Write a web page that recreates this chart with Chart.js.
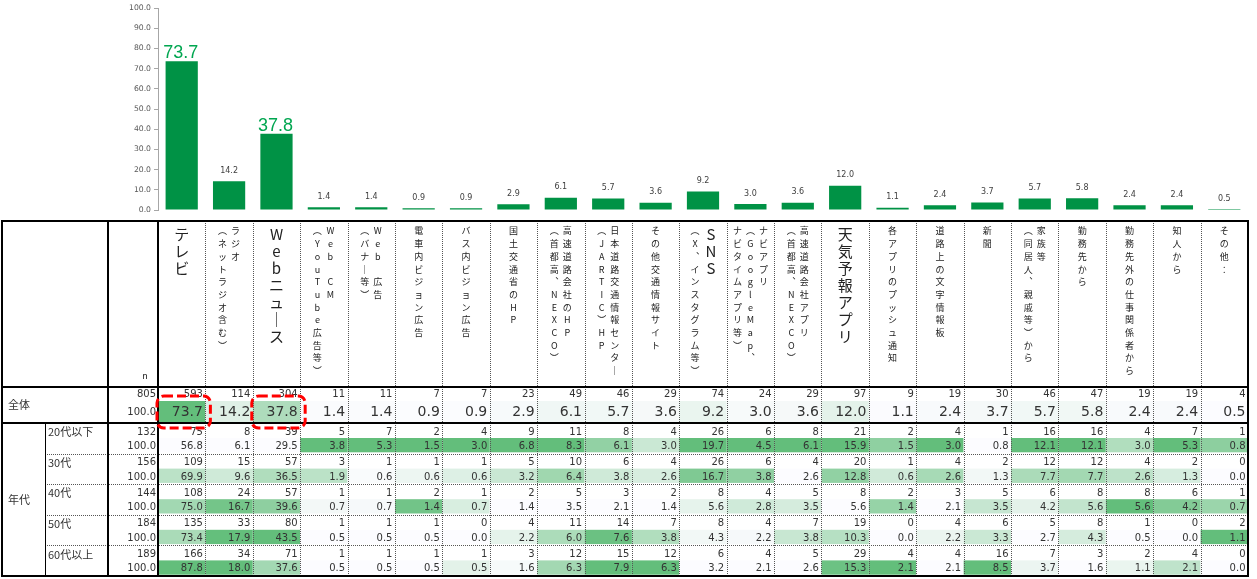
<!DOCTYPE html>
<html><head><meta charset="utf-8">
<script src="https://cdn.jsdelivr.net/npm/chart.js@4/dist/chart.umd.min.js"></script>
<style>html,body{margin:0;padding:0;background:#fff;}#wrap{position:relative;width:1257px;height:579px;}</style>
</head><body><div id="wrap"><canvas id="c"></canvas></div>
<script>
// ---- data ----
const categories = [
  ['テレビ'], ['ラジオ','（ネットラジオ含む）'], ['Webニュース'], ['Web CM','（YouTube広告等）'],
  ['Web 広告','（バナー等）'], ['電車内ビジョン広告'], ['バス内ビジョン広告'], ['国土交通省のHP'],
  ['高速道路会社のHP','（首都高、NEXCO）'], ['日本道路交通情報センター','（JARTIC）HP'], ['その他交通情報サイト'],
  ['SNS','（X、インスタグラム等）'], ['ナビアプリ','（GoogleMap、','ナビタイムアプリ等）'],
  ['高速道路会社アプリ','（首都高、NEXCO）'], ['天気予報アプリ'], ['各アプリのプッシュ通知'], ['道路上の文字情報板'],
  ['新聞'], ['家族等','（同居人、親戚等）から'], ['勤務先から'], ['勤務先外の仕事関係者から'], ['知人から'], ['その他：']
];
const bigHeader = [0, 2, 11, 14];
const highlightIdx = [0, 2];
const yTicks = [0,10,20,30,40,50,60,70,80,90,100];
const totalLabel = '全体';
const ageLabel = '年代';
const ageGroups = ['20代以下','30代','40代','50代','60代以上'];
const totalN = 805;
const ageN = [132,156,144,184,189];
const totalCounts = [593,114,304,11,11,7,7,23,49,46,29,74,24,29,97,9,19,30,46,47,19,19,4];
const totalPct = [73.7,14.2,37.8,1.4,1.4,0.9,0.9,2.9,6.1,5.7,3.6,9.2,3.0,3.6,12.0,1.1,2.4,3.7,5.7,5.8,2.4,2.4,0.5];
const age20Counts = [75,8,39,5,7,2,4,9,11,8,4,26,6,8,21,2,4,1,16,16,4,7,1];
const age20Pct = [56.8,6.1,29.5,3.8,5.3,1.5,3.0,6.8,8.3,6.1,3.0,19.7,4.5,6.1,15.9,1.5,3.0,0.8,12.1,12.1,3.0,5.3,0.8];
const age30Counts = [109,15,57,3,1,1,1,5,10,6,4,26,6,4,20,1,4,2,12,12,4,2,0];
const age30Pct = [69.9,9.6,36.5,1.9,0.6,0.6,0.6,3.2,6.4,3.8,2.6,16.7,3.8,2.6,12.8,0.6,2.6,1.3,7.7,7.7,2.6,1.3,0.0];
const age40Counts = [108,24,57,1,1,2,1,2,5,3,2,8,4,5,8,2,3,5,6,8,8,6,1];
const age40Pct = [75.0,16.7,39.6,0.7,0.7,1.4,0.7,1.4,3.5,2.1,1.4,5.6,2.8,3.5,5.6,1.4,2.1,3.5,4.2,5.6,5.6,4.2,0.7];
const age50Counts = [135,33,80,1,1,1,0,4,11,14,7,8,4,7,19,0,4,6,5,8,1,0,2];
const age50Pct = [73.4,17.9,43.5,0.5,0.5,0.5,0.0,2.2,6.0,7.6,3.8,4.3,2.2,3.8,10.3,0.0,2.2,3.3,2.7,4.3,0.5,0.0,1.1];
const age60Counts = [166,34,71,1,1,1,1,3,12,15,12,6,4,5,29,4,4,16,7,3,2,4,0];
const age60Pct = [87.8,18.0,37.6,0.5,0.5,0.5,0.5,1.6,6.3,7.9,6.3,3.2,2.1,2.6,15.3,2.1,2.1,8.5,3.7,1.6,1.1,2.1,0.0];

const ageCounts = [age20Counts, age30Counts, age40Counts, age50Counts, age60Counts];
const agePct = [age20Pct, age30Pct, age40Pct, age50Pct, age60Pct];

// ---- styles ----
const NUM = '"DejaVu Sans", sans-serif';
const JP = '"Noto Sans CJK JP", sans-serif';
const vmap = {'（':'︵','）':'︶','、':'︑','ー':'｜'};

function scaleColor(v, min, max){
  const t = max > min ? (v - min) / (max - min) : 0;
  const lo = [252,252,255], hi = [99,190,123];
  const c = lo.map((l, k) => Math.round(l + (hi[k] - l) * t));
  return `rgb(${c[0]},${c[1]},${c[2]})`;
}

const labelPlugin = {
  id: 'barLabels',
  afterDatasetsDraw(chart){
    const ctx = chart.ctx, meta = chart.getDatasetMeta(0);
    ctx.save(); ctx.textAlign = 'center';
    meta.data.forEach((bar, i) => {
      const v = totalPct[i].toFixed(1);
      if (highlightIdx.includes(i)) {
        ctx.font = '18px "Liberation Sans", sans-serif'; ctx.fillStyle = '#00a650';
        ctx.textBaseline = 'alphabetic'; ctx.fillText(v, bar.x - 1, bar.y - 3);
      } else {
        ctx.font = '8px ' + NUM; ctx.fillStyle = '#404040';
        ctx.textBaseline = 'middle'; ctx.fillText(v, bar.x, bar.y - 10.5);
      }
    });
    ctx.restore();
  }
};

const tablePlugin = {
  id: 'table',
  afterDraw(chart){
    const ctx = chart.ctx, xs = chart.scales.x, n = categories.length;
    const half = (xs.getPixelForValue(1) - xs.getPixelForValue(0)) / 2;
    const colL = i => xs.getPixelForValue(i) - half;
    const colR = i => xs.getPixelForValue(i) + half;
    const L = 2, R = colR(n - 1), T0 = 221, H1 = 387, H2 = 423, BH = 30.6, B = H2 + 5 * BH;
    const C1 = 45, C2 = 108, C3 = colL(0);
    ctx.save();
    // fills: total row
    const tMin = Math.min(...totalPct), tMax = Math.max(...totalPct);
    for (let i = 0; i < n; i++) {
      ctx.fillStyle = scaleColor(totalPct[i], tMin, tMax);
      ctx.fillRect(colL(i), 401, colR(i) - colL(i), 22);
    }
    // fills: age rows (per-column scale)
    for (let i = 0; i < n; i++) {
      const col = agePct.map(a => a[i]);
      const mn = Math.min(...col), mx = Math.max(...col);
      for (let k = 0; k < 5; k++) {
        ctx.fillStyle = scaleColor(col[k], mn, mx);
        ctx.fillRect(colL(i), H2 + k * BH + 15, colR(i) - colL(i), 14.3);
      }
    }
    // header vertical text
    ctx.fillStyle = '#222'; ctx.textAlign = 'center'; ctx.textBaseline = 'middle';
    for (let i = 0; i < n; i++) {
      const lines = categories[i];
      const sizes = lines.map((_, j) => (j === 0 && bigHeader.includes(i)) ? 15 : 9);
      const gaps = []; let span = 0;
      for (let j = 1; j < lines.length; j++) { const g = (sizes[j-1] + sizes[j]) / 2 + 4; gaps.push(g); span += g; }
      let x = xs.getPixelForValue(i) + span / 2;
      lines.forEach((line, j) => {
        if (j > 0) x -= gaps[j-1];
        const big = sizes[j] === 15;
        ctx.font = sizes[j] + 'px ' + JP;
        let y = big ? 234 : 231; const pitch = big ? 17 : 12.7;
        for (const ch of line) { if (ch !== ' ') ctx.fillText(vmap[ch] || ch, x, y); y += pitch; }
      });
    }
    ctx.font = '9px ' + JP; ctx.fillText('n', 145, 376);
    // left labels
    ctx.textAlign = 'left'; ctx.font = '11px ' + JP; ctx.fillStyle = '#333';
    ctx.fillText(totalLabel, 8, 405);
    ctx.fillText(ageLabel, 8, (H2 + B) / 2);
    ageGroups.forEach((g, k) => ctx.fillText(g, C1 + 3, H2 + k * BH + 9));
    // numbers
    ctx.textAlign = 'right'; ctx.font = '10px ' + NUM;
    ctx.fillText(String(totalN), C3 - 2, 394.5);
    ctx.fillText((100).toFixed(1), C3 - 2, 412);
    ageN.forEach((v, k) => { ctx.fillText(String(v), C3 - 2, H2 + k * BH + 9); ctx.fillText((100).toFixed(1), C3 - 2, H2 + k * BH + 23.5); });
    for (let i = 0; i < n; i++) {
      const xr = colR(i) - 2.5;
      ctx.font = '10px ' + NUM; ctx.fillText(String(totalCounts[i]), xr, 394.5);
      ctx.font = '14px ' + NUM; ctx.fillText(totalPct[i].toFixed(1), xr, 412.5);
      ctx.font = '10px ' + NUM;
      for (let k = 0; k < 5; k++) {
        ctx.fillText(String(ageCounts[k][i]), xr, H2 + k * BH + 9);
        ctx.fillText(agePct[k][i].toFixed(1), xr, H2 + k * BH + 23.5);
      }
    }
    // dotted lines
    ctx.strokeStyle = '#555'; ctx.lineWidth = 1; ctx.setLineDash([1, 1]);
    for (let i = 1; i < n; i++) {
      const x = Math.round(colL(i)) + 0.5;
      ctx.beginPath(); ctx.moveTo(x, T0); ctx.lineTo(x, B); ctx.stroke();
    }
    for (let k = 1; k < 5; k++) {
      const y = Math.round(H2 + k * BH) + 0.5;
      ctx.beginPath(); ctx.moveTo(C1, y); ctx.lineTo(R, y); ctx.stroke();
    }
    ctx.setLineDash([]);
    // solid lines
    ctx.fillStyle = '#000';
    [T0, H1, H2, B].forEach(y => ctx.fillRect(L, y - 1, R - L + 1, 2));
    ctx.fillRect(L - 1, T0 - 1, 2, B - T0 + 2);
    ctx.fillRect(R - 1, T0 - 1, 2, B - T0 + 2);
    ctx.fillRect(C2 - 1, T0, 2, B - T0);
    ctx.fillRect(C3 - 1, T0, 2, B - T0);
    ctx.fillRect(C1, H2, 1, B - H2);
    // red dashed highlight boxes
    ctx.strokeStyle = '#ff0000'; ctx.lineWidth = 3; ctx.setLineDash([9, 4]);
    highlightIdx.forEach(i => {
      const x0 = colL(i) - 1, x1 = colR(i) + 5, y0 = 396, y1 = 428;
      ctx.beginPath(); ctx.roundRect(x0, y0, x1 - x0, y1 - y0, 7); ctx.stroke();
    });
    ctx.restore();
  }
};

new Chart(document.getElementById('c'), {
  type: 'bar',
  data: {
    labels: categories.map(l => l.join('')),
    datasets: [{ data: totalPct, backgroundColor: '#009245', barPercentage: 0.68, categoryPercentage: 1.0 }]
  },
  options: {
    responsive: true, maintainAspectRatio: false, animation: false, devicePixelRatio: 1, events: [],
    layout: { padding: { left: 0, right: 9, top: 8, bottom: 369 } },
    plugins: { legend: { display: false }, tooltip: { enabled: false } },
    scales: {
      x: { display: false },
      y: {
        min: 0, max: 100,
        afterFit(scale){ scale.width = 158; },
        afterBuildTicks(scale){ scale.ticks = yTicks.map(v => ({ value: v })); },
        ticks: { callback: v => Number(v).toFixed(1), font: { family: 'DejaVu Sans', size: 7.7 }, color: '#595959', padding: 3 },
        grid: { drawOnChartArea: false, drawTicks: true, tickLength: 4, color: '#a6a6a6' },
        border: { display: true, color: '#a6a6a6' }
      }
    }
  },
  plugins: [labelPlugin, tablePlugin]
});
</script></body></html>
